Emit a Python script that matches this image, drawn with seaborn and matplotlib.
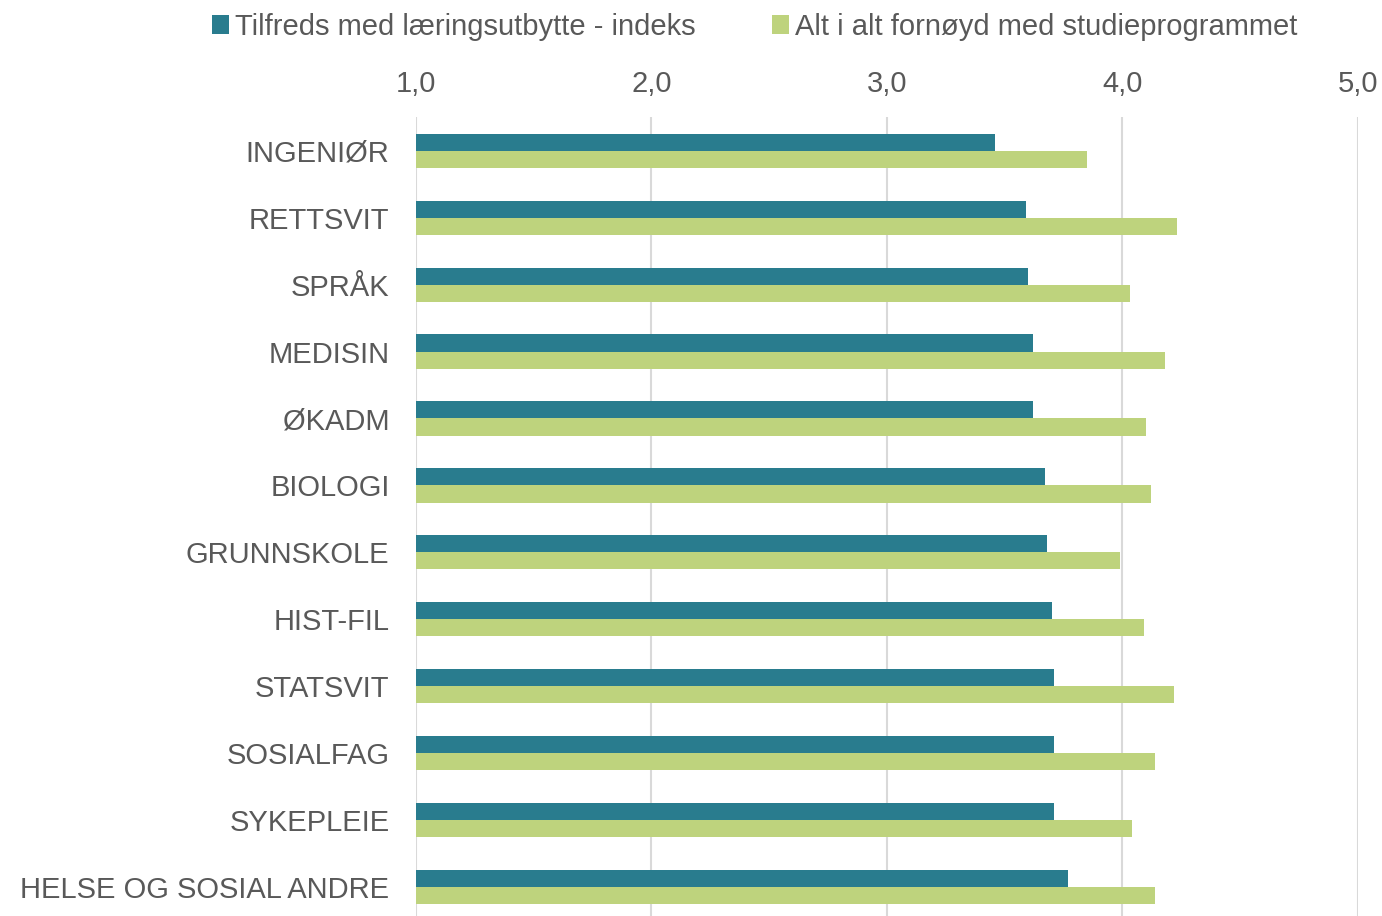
import pandas as pd
import matplotlib.pyplot as plt
import seaborn as sns

# data
studier = ["INGENIØR", "RETTSVIT", "SPRÅK", "MEDISIN", "ØKADM", "BIOLOGI",
           "GRUNNSKOLE", "HIST-FIL", "STATSVIT", "SOSIALFAG", "SYKEPLEIE",
           "HELSE OG SOSIAL ANDRE"]
laeringsutbytte = [3.46, 3.59, 3.60, 3.62, 3.62, 3.67, 3.68, 3.70, 3.71, 3.71, 3.71, 3.77]
fornoyd = [3.85, 4.23, 4.03, 4.18, 4.10, 4.12, 3.99, 4.09, 4.22, 4.14, 4.04, 4.14]
serier = ["Tilfreds med læringsutbytte - indeks", "Alt i alt fornøyd med studieprogrammet"]
x_ticks = [1, 2, 3, 4, 5]
x_labels = ["1,0", "2,0", "3,0", "4,0", "5,0"]

farger = ["#297C8E", "#BED37D"]
tekst = "#595959"

df = pd.concat([
    pd.DataFrame({"studie": studier, "verdi": laeringsutbytte, "serie": serier[0]}),
    pd.DataFrame({"studie": studier, "verdi": fornoyd, "serie": serier[1]}),
])

sns.set_theme(style="white")
plt.rcParams["font.family"] = ["Liberation Sans", "DejaVu Sans"]

fig = plt.figure(figsize=(13.82, 9.16), dpi=100)
ax = fig.add_axes([0.301, -0.005, 0.6816, 0.877])

sns.barplot(data=df, x="verdi", y="studie", hue="serie", order=studier,
            hue_order=serier, palette=farger, width=0.51, orient="h",
            saturation=1, edgecolor="none", ax=ax, legend=True)

ax.set_xlim(1, 5)
ax.set_ylim(len(studier) - 0.5, -0.5)
ax.set_xticks(x_ticks)
ax.set_xticklabels(x_labels)
ax.xaxis.tick_top()
ax.tick_params(axis="x", labelsize=21, colors=tekst, length=0, pad=14)
ax.tick_params(axis="y", labelsize=21, colors=tekst, length=0, pad=19)
ax.set_xlabel("")
ax.set_ylabel("")
ax.grid(axis="x", color="#D9D9D9", linewidth=1.5)
ax.set_axisbelow(True)
for s in ax.spines.values():
    s.set_visible(False)

handles, labels = ax.get_legend_handles_labels()
ax.get_legend().remove()
fig.legend(handles, labels, loc="center", bbox_to_anchor=(0.546, 0.971),
           ncol=2, frameon=False, fontsize=21, labelcolor=tekst,
           handlelength=0.6, handleheight=0.6, handletextpad=0.2,
           columnspacing=2.6)

fig.savefig("out.png", dpi=100)
